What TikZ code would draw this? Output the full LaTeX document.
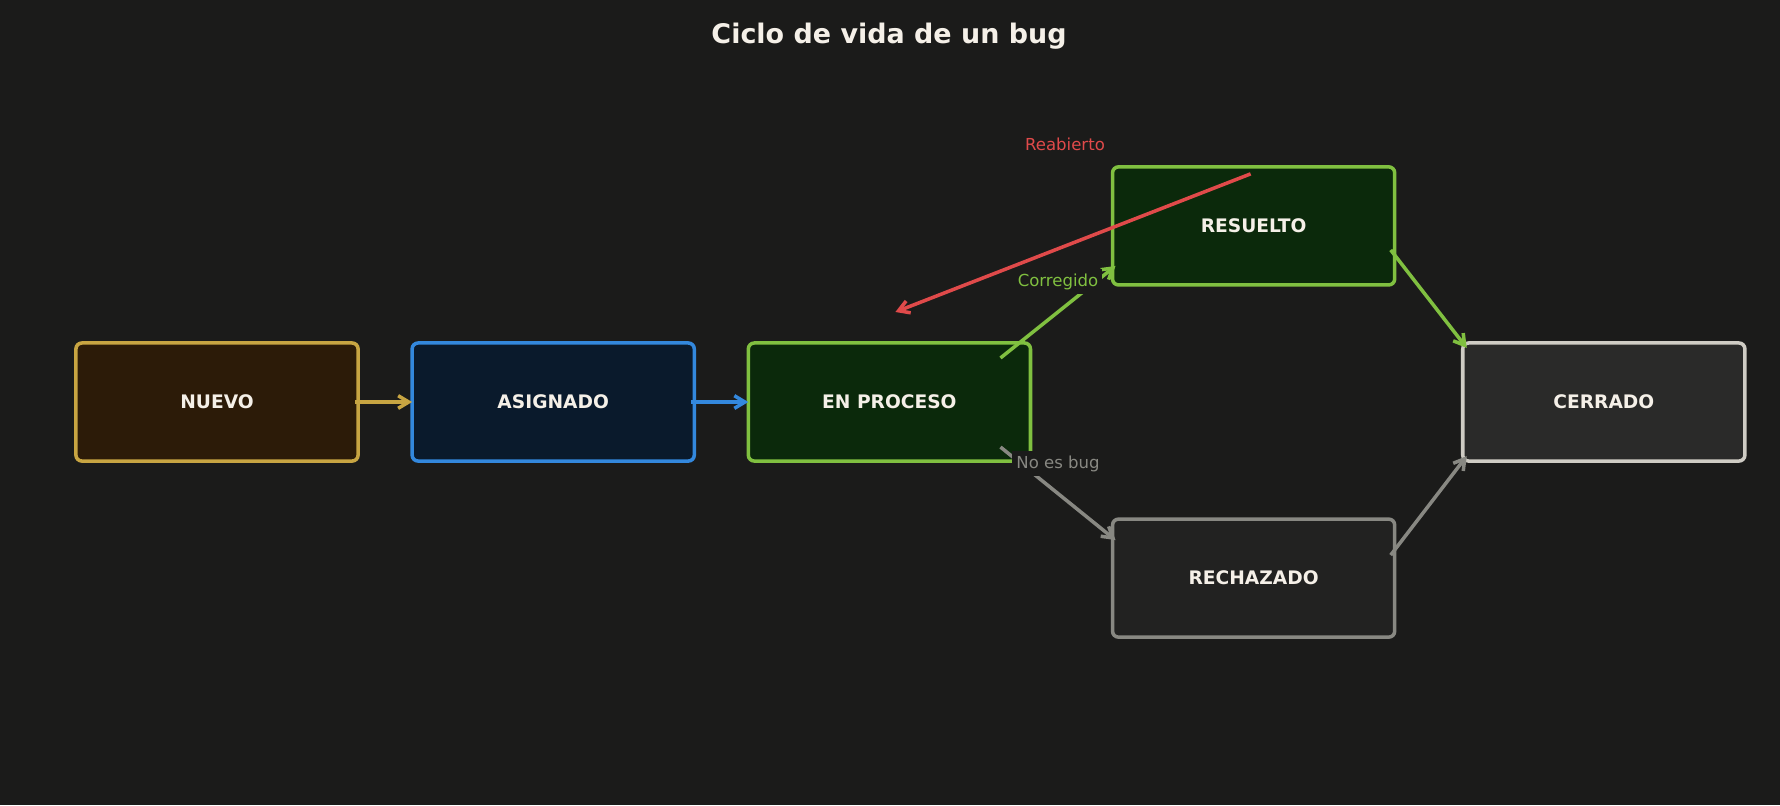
\documentclass[tikz,border=0pt]{standalone}
\usepackage{fontspec}
\setmainfont{DejaVu Sans}
\usetikzlibrary{arrows.meta,positioning,calc}

\definecolor{bgdark}{HTML}{1B1B1A}
\definecolor{txtlight}{HTML}{F5F0E8}
\definecolor{goldline}{HTML}{C8A542}
\definecolor{goldfill}{HTML}{2C1B08}
\definecolor{blueline}{HTML}{3388DD}
\definecolor{bluefill}{HTML}{0A1A2C}
\definecolor{greenline}{HTML}{80C040}
\definecolor{greenfill}{HTML}{0B290B}
\definecolor{grayline}{HTML}{888882}
\definecolor{grayfill}{HTML}{222221}
\definecolor{paleline}{HTML}{CFCCC4}
\definecolor{palefill}{HTML}{2A2A29}
\definecolor{redline}{HTML}{E04A4A}

\begin{document}
\begin{tikzpicture}[
    x=0.01cm, y=-0.01cm,
    node distance=0.54cm,
    box/.style={
      draw,
      rounded corners=1.7pt,
      line width=1pt,
      outer sep=0pt,
      minimum width=2.82cm,
      minimum height=1.18cm,
      text=txtlight,
      font=\fontsize{5.3}{6.3}\selectfont\bfseries
    },
    arrow/.style={-{Straight Barb[length=3pt,width=3.6pt]}, line width=1pt},
    lbl/.style={font=\fontsize{4.7}{5.6}\selectfont, fill=bgdark, inner sep=1.2pt, anchor=base}
  ]
    \fill[bgdark] (0,0) rectangle (1780,805);

    \node[font=\fontsize{7.66}{9}\selectfont\bfseries, text=txtlight, anchor=base] (title) at (889,43) {Ciclo de vida de un bug};

    \node[box, draw=goldline, fill=goldfill] (nuevo) at (217,402) {NUEVO};
    \node[box, draw=blueline, fill=bluefill, right=of nuevo] (asignado) {ASIGNADO};
    \node[box, draw=greenline, fill=greenfill, right=of asignado] (proceso) {EN PROCESO};
    \node[box, draw=greenline, fill=greenfill, right=0.82cm of proceso, yshift=1.76cm] (resuelto) {RESUELTO};
    \node[box, draw=grayline, fill=grayfill, right=0.82cm of proceso, yshift=-1.76cm] (rechazado) {RECHAZADO};
    \node[box, draw=paleline, fill=palefill, right=0.68cm of resuelto, yshift=-1.76cm] (cerrado) {CERRADO};

    \draw[arrow, goldline] ($(nuevo.east)+(-3,0)$) -- (asignado.west);
    \draw[arrow, blueline] ($(asignado.east)+(-3,0)$) -- (proceso.west);
    \draw[arrow, greenline] ($(proceso.north east)+(-30,15)$) -- ($(resuelto.south west)+(3,-19)$);
    \draw[arrow, grayline] ($(proceso.south east)+(-30,-14)$) -- ($(rechazado.north west)+(3,21)$);
    \draw[arrow, greenline] ($(resuelto.south east)+(-4,-35)$) -- ($(cerrado.north west)+(4,5)$);
    \draw[arrow, grayline] ($(rechazado.north east)+(-4,36)$) -- ($(cerrado.south west)+(4,-5)$);
    \draw[arrow, redline] ($(resuelto.north)+(-3,7)$) -- ($(proceso.north)+(6,-31)$);

    \node[lbl, text=redline] (lreab) at (1065,150) {Reabierto};
    \node[lbl, text=greenline] (lcorr) at (1058,286) {Corregido};
    \node[lbl, text=grayline] (lnobug) at (1058,468) {No es bug};
\end{tikzpicture}
\end{document}
